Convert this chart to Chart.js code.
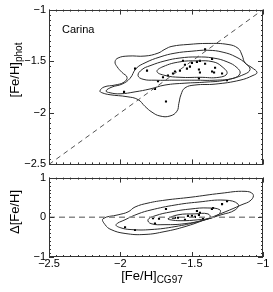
<!DOCTYPE html>
<html>
<head>
<meta charset="utf-8">
<script src="https://cdn.jsdelivr.net/npm/chart.js@4.4.1/dist/chart.umd.min.js"></script>
<style>
    html, body { margin: 0; padding: 0; background: #fff; }
    #wrap { position: relative; width: 273px; height: 292px; overflow: hidden; }
    canvas { position: absolute; left: 0; }
</style>
</head>
<body>
<div id="wrap">
    <canvas id="photChart" width="273" height="174" style="top:0px"></canvas>
    <canvas id="deltaChart" width="273" height="124" style="top:168px"></canvas>
</div>
<script>
    // Ticks
    const cgTicks = [-2.5, -2, -1.5, -1];
    const photTicks = [-2.5, -2, -1.5, -1];
    const deltaTicks = [-1, 0, 1];

    // Stars, upper panel: [Fe/H]_CG97 vs [Fe/H]_phot
    const starCG97 = [-1.974, -1.897, -1.680, -1.813, -1.757, -1.736, -1.701, -1.666, -1.631, -1.617,
        -1.561, -1.547, -1.533, -1.512, -1.498, -1.463, -1.442, -1.449, -1.442, -1.406,
        -1.449, -1.357, -1.343, -1.357, -1.336, -1.287, -1.252, -1.406, -1.582];
    const starPhot = [-1.797, -1.572, -1.891, -1.591, -1.769, -1.694, -1.656, -1.638, -1.619, -1.600,
        -1.497, -1.534, -1.572, -1.553, -1.516, -1.506, -1.497, -1.581, -1.609, -1.384,
        -1.666, -1.600, -1.609, -1.478, -1.563, -1.619, -1.684, -1.525, -1.591];

    // Stars, lower panel: [Fe/H]_CG97 vs delta
    const deltaCG97 = [-1.967, -1.897, -1.771, -1.757, -1.729, -1.680, -1.631, -1.617, -1.596, -1.547,
        -1.526, -1.498, -1.477, -1.463, -1.449, -1.442, -1.421, -1.358, -1.350, -1.287, -1.252];
    const deltaFeH = [-0.250, -0.320, -0.025, -0.160, -0.037, 0.210, -0.012, -0.012, -0.012, -0.062,
        0.037, 0.037, 0.012, 0.160, 0.062, 0.111, -0.037, 0.210, 0.235, 0.333, 0.407];

    // Density contours, upper panel (outer to inner)
    const photLevel1 = [[-2.143, -1.788], [-2.114, -1.750], [-2.037, -1.731], [-1.974, -1.703], [-1.953, -1.656],
        [-1.988, -1.609], [-2.023, -1.553], [-2.037, -1.506], [-2.016, -1.469], [-1.946, -1.450],
        [-1.827, -1.450], [-1.736, -1.422], [-1.687, -1.384], [-1.638, -1.356], [-1.526, -1.338],
        [-1.385, -1.328], [-1.245, -1.338], [-1.175, -1.375], [-1.147, -1.441], [-1.126, -1.516],
        [-1.077, -1.563], [-1.042, -1.609], [-1.070, -1.638], [-1.161, -1.684], [-1.336, -1.722],
        [-1.477, -1.731], [-1.547, -1.759], [-1.575, -1.825], [-1.590, -1.910], [-1.603, -1.984],
        [-1.652, -2.031], [-1.722, -2.031], [-1.778, -1.994], [-1.827, -1.938], [-1.876, -1.872],
        [-1.953, -1.844], [-2.072, -1.825], [-2.128, -1.806]];
    const photLevel2 = [[-2.100, -1.788], [-2.058, -1.750], [-1.988, -1.722], [-1.932, -1.666], [-1.890, -1.572],
        [-1.827, -1.516], [-1.722, -1.459], [-1.617, -1.422], [-1.498, -1.403], [-1.386, -1.394],
        [-1.280, -1.413], [-1.189, -1.459], [-1.119, -1.525], [-1.091, -1.581], [-1.133, -1.628],
        [-1.266, -1.684], [-1.407, -1.703], [-1.547, -1.713], [-1.687, -1.731], [-1.792, -1.769],
        [-1.897, -1.797], [-2.002, -1.816], [-2.072, -1.806]];
    const photLevel3 = [[-1.876, -1.638], [-1.848, -1.581], [-1.792, -1.544], [-1.687, -1.497], [-1.582, -1.469],
        [-1.463, -1.459], [-1.350, -1.469], [-1.252, -1.506], [-1.182, -1.563], [-1.161, -1.619],
        [-1.210, -1.666], [-1.336, -1.684], [-1.477, -1.684], [-1.617, -1.684], [-1.757, -1.684],
        [-1.841, -1.675]];
    const photLevel4 = [[-1.743, -1.600], [-1.701, -1.553], [-1.582, -1.506], [-1.463, -1.497], [-1.350, -1.506],
        [-1.287, -1.553], [-1.252, -1.619], [-1.308, -1.656], [-1.442, -1.656], [-1.582, -1.656],
        [-1.687, -1.638]];

    // Density contours, lower panel (outer to inner)
    const deltaLevel1 = [[-2.121, -0.037], [-2.016, 0.062], [-1.946, 0.136], [-1.897, 0.259], [-1.806, 0.358],
        [-1.687, 0.432], [-1.505, 0.506], [-1.294, 0.605], [-1.126, 0.654], [-1.070, 0.580],
        [-1.084, 0.432], [-1.154, 0.309], [-1.266, 0.136], [-1.407, -0.062], [-1.547, -0.235],
        [-1.687, -0.358], [-1.827, -0.432], [-1.967, -0.407], [-2.065, -0.309], [-2.107, -0.185]];
    const deltaLevel2 = [[-2.030, -0.185], [-1.967, -0.062], [-1.876, 0.086], [-1.785, 0.185], [-1.617, 0.309],
        [-1.456, 0.383], [-1.266, 0.432], [-1.175, 0.333], [-1.196, 0.185], [-1.294, 0.062],
        [-1.456, -0.111], [-1.617, -0.235], [-1.785, -0.309], [-1.925, -0.309], [-2.002, -0.259]];
    const deltaLevel3 = [[-1.806, -0.062], [-1.757, 0.037], [-1.645, 0.136], [-1.505, 0.210], [-1.386, 0.235],
        [-1.301, 0.185], [-1.315, 0.062], [-1.407, -0.062], [-1.547, -0.160], [-1.687, -0.185],
        [-1.785, -0.160]];
    const deltaLevel4 = [[-1.666, -0.037], [-1.596, 0.062], [-1.477, 0.086], [-1.386, 0.086], [-1.371, -0.012],
        [-1.456, -0.062], [-1.575, -0.086], [-1.652, -0.062]];

    const oneToOne = [-2.5, -1];
    const zeroLine = [0, 0];

    const FONT = 'Liberation Sans, Arial, Helvetica, sans-serif';
    const LINE = '#2b2b2b';

    const fmt = v => String(v).replace('-', '\u2212');

    // closed smooth curve: wrap the ends and hide the extra segments
    function contour(pts) {
        const n = pts.length;
        const seq = [pts[n - 1]].concat(pts, [pts[0], pts[1]]);
        return {
            data: seq.map(p => ({ x: p[0], y: p[1] })),
            showLine: true,
            pointRadius: 0,
            borderColor: LINE,
            borderWidth: 1,
            tension: 0.45,
            fill: false,
            segment: {
                borderColor: ctx => (ctx.p0DataIndex === 0 || ctx.p0DataIndex === n + 1) ? 'rgba(0,0,0,0)' : LINE
            }
        };
    }

    function stars(xs, ys) {
        return {
            data: xs.map((x, i) => ({ x: x, y: ys[i] })),
            pointStyle: 'rect',
            pointRadius: 1.5,
            pointBorderWidth: 0,
            pointBackgroundColor: '#000',
            showLine: false
        };
    }

    // frame with inward major/minor ticks on all four sides
    const framePlugin = {
        id: 'frame',
        afterDatasetsDraw(chart, args, o) {
            const ctx = chart.ctx, a = chart.chartArea;
            const sx = chart.scales.x, sy = chart.scales.y;
            ctx.save();
            ctx.strokeStyle = '#333';
            ctx.lineWidth = 1;
            ctx.strokeRect(Math.round(a.left) + 0.5, Math.round(a.top) + 0.5,
                Math.round(a.right - a.left) - 1, Math.round(a.bottom - a.top) - 1);
            ctx.beginPath();
            const tickX = (v, len) => {
                const px = Math.round(sx.getPixelForValue(v)) + 0.5;
                ctx.moveTo(px, a.bottom); ctx.lineTo(px, a.bottom - len);
                ctx.moveTo(px, a.top); ctx.lineTo(px, a.top + len);
            };
            const tickY = (v, len) => {
                const py = Math.round(sy.getPixelForValue(v)) + 0.5;
                ctx.moveTo(a.left, py); ctx.lineTo(a.left + len, py);
                ctx.moveTo(a.right, py); ctx.lineTo(a.right - len, py);
            };
            for (let v = sx.min; v <= sx.max + 1e-9; v += o.xMinor) tickX(v, 2);
            for (let v = sy.min; v <= sy.max + 1e-9; v += o.yMinor) tickY(v, 2);
            o.xMajor.forEach(v => tickX(v, 5));
            o.yMajor.forEach(v => tickY(v, 5));
            ctx.stroke();
            ctx.restore();
        }
    };

    // texts with subscripts
    const labelPlugin = {
        id: 'labels',
        afterDraw(chart, args, o) {
            const ctx = chart.ctx;
            ctx.save();
            ctx.fillStyle = '#000';
            ctx.textBaseline = 'alphabetic';
            (o.items || []).forEach(it => {
                ctx.save();
                ctx.translate(it.x, it.y);
                if (it.rotate) ctx.rotate(-Math.PI / 2);
                ctx.font = it.size + 'px ' + FONT;
                const w1 = ctx.measureText(it.text).width;
                let w2 = 0;
                if (it.sub) {
                    ctx.font = it.subSize + 'px ' + FONT;
                    w2 = ctx.measureText(it.sub).width;
                }
                const x0 = it.align === 'left' ? 0 : -(w1 + w2) / 2;
                ctx.font = it.size + 'px ' + FONT;
                ctx.fillText(it.text, x0, 0);
                if (it.sub) {
                    ctx.font = it.subSize + 'px ' + FONT;
                    ctx.fillText(it.sub, x0 + w1, it.subDrop);
                }
                ctx.restore();
            });
            ctx.restore();
        }
    };

    const tickFont = { family: FONT, size: 11 };

    // Upper panel
    const photCtx = document.getElementById('photChart').getContext('2d');
    new Chart(photCtx, {
        type: 'scatter',
        data: {
            datasets: [
                {
                    data: oneToOne.map(v => ({ x: v, y: v })),
                    showLine: true,
                    pointRadius: 0,
                    borderColor: '#555',
                    borderWidth: 1,
                    borderDash: [5, 4]
                },
                contour(photLevel1),
                contour(photLevel2),
                contour(photLevel3),
                contour(photLevel4),
                stars(starCG97, starPhot)
            ]
        },
        options: {
            responsive: false,
            animation: false,
            devicePixelRatio: 1,
            layout: { padding: { top: 7, right: 10, bottom: 7, left: 0 } },
            scales: {
                x: { type: 'linear', min: -2.5, max: -1, display: false },
                y: {
                    type: 'linear', min: -2.5, max: -1,
                    afterBuildTicks: s => { s.ticks = photTicks.map(v => ({ value: v })); },
                    afterFit: s => { s.width = 49; },
                    grid: { display: false, drawTicks: false },
                    border: { display: false },
                    ticks: { callback: fmt, padding: 3, color: '#000', font: tickFont }
                }
            },
            plugins: {
                legend: { display: false },
                tooltip: { enabled: false },
                frame: { xMajor: cgTicks, yMajor: photTicks, xMinor: 0.05, yMinor: 0.05 },
                labels: {
                    items: [
                        { text: 'Carina', x: 62, y: 33, size: 11, align: 'left' },
                        { text: '[Fe/H]', sub: 'phot', x: 19, y: 70, size: 13, subSize: 10, subDrop: 3, rotate: true }
                    ]
                }
            }
        },
        plugins: [framePlugin, labelPlugin]
    });

    // Lower panel
    const deltaCtx = document.getElementById('deltaChart').getContext('2d');
    new Chart(deltaCtx, {
        type: 'scatter',
        data: {
            datasets: [
                {
                    data: cgTicks.filter((v, i) => i === 0 || i === cgTicks.length - 1).map((v, i) => ({ x: v, y: zeroLine[i] })),
                    showLine: true,
                    pointRadius: 0,
                    borderColor: '#8a8a8a',
                    borderWidth: 1.5,
                    borderDash: [6, 4]
                },
                contour(deltaLevel1),
                contour(deltaLevel2),
                contour(deltaLevel3),
                contour(deltaLevel4),
                stars(deltaCG97, deltaFeH)
            ]
        },
        options: {
            responsive: false,
            animation: false,
            devicePixelRatio: 1,
            layout: { padding: { top: 8, right: 10, bottom: 0, left: 0 } },
            scales: {
                x: {
                    type: 'linear', min: -2.5, max: -1,
                    afterBuildTicks: s => { s.ticks = cgTicks.map(v => ({ value: v })); },
                    afterFit: s => { s.height = 35; },
                    grid: { display: false, drawTicks: false },
                    border: { display: false },
                    ticks: { callback: fmt, padding: 0, color: '#000', font: tickFont, maxRotation: 0 }
                },
                y: {
                    type: 'linear', min: -1, max: 1,
                    afterBuildTicks: s => { s.ticks = deltaTicks.map(v => ({ value: v })); },
                    afterFit: s => { s.width = 49; },
                    grid: { display: false, drawTicks: false },
                    border: { display: false },
                    ticks: { callback: fmt, padding: 3, color: '#000', font: tickFont }
                }
            },
            plugins: {
                legend: { display: false },
                tooltip: { enabled: false },
                frame: { xMajor: cgTicks, yMajor: deltaTicks, xMinor: 0.05, yMinor: 0.1 },
                labels: {
                    items: [
                        { text: '\u0394[Fe/H]', x: 19, y: 44, size: 13, rotate: true },
                        { text: '[Fe/H]', sub: 'CG97', x: 152, y: 112, size: 13, subSize: 10, subDrop: 3 }
                    ]
                }
            }
        },
        plugins: [framePlugin, labelPlugin]
    });
</script>
</body>
</html>
